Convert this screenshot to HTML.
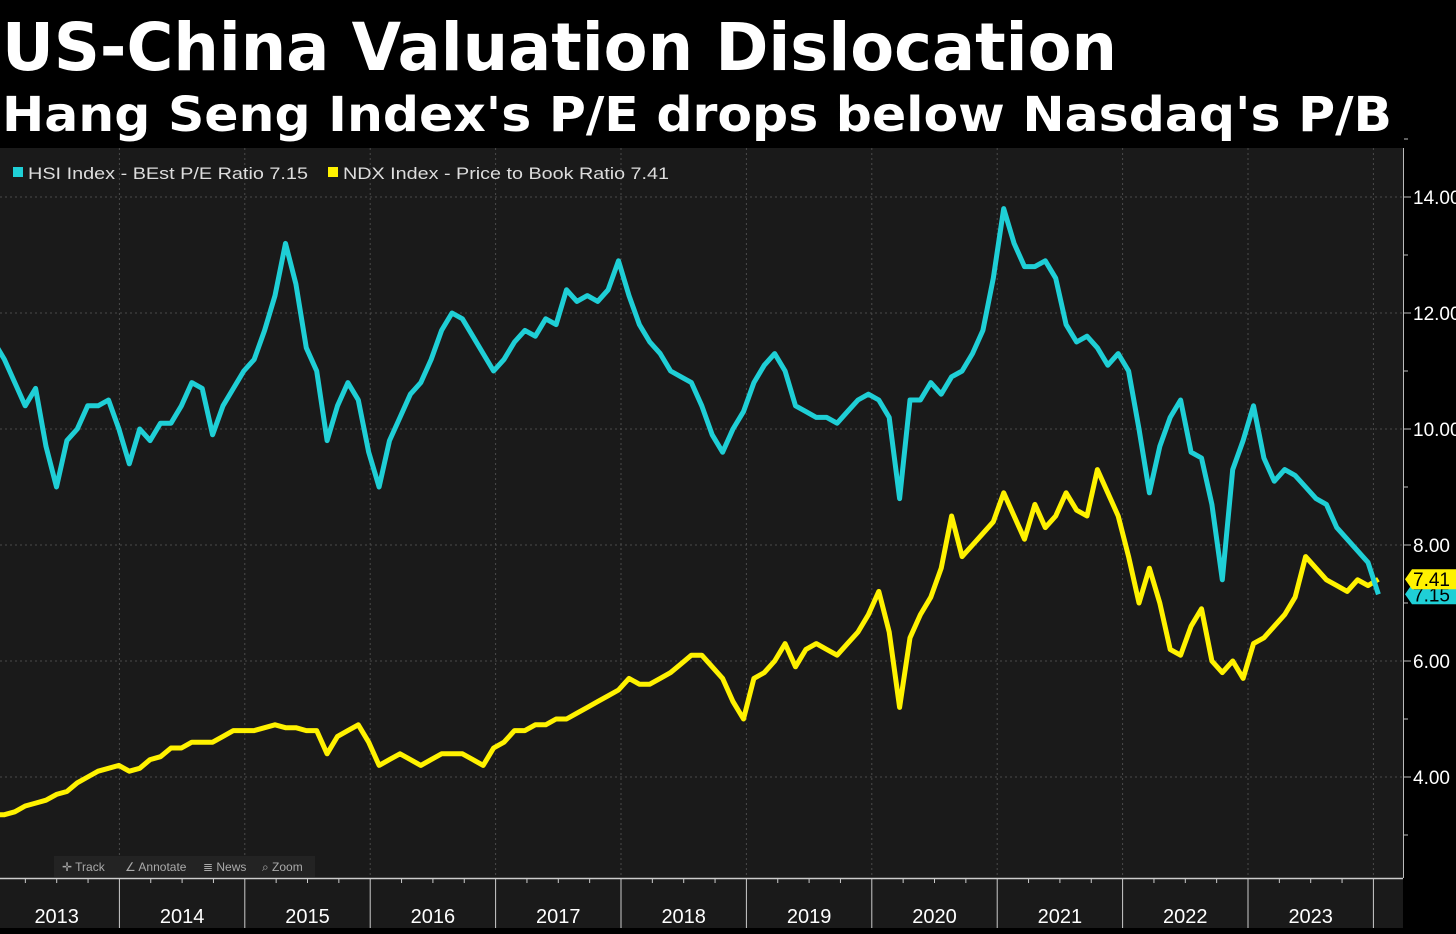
<!DOCTYPE html>
<html><head><meta charset="utf-8"><style>
html,body{margin:0;padding:0;background:#000;}
svg{display:block;font-family:"DejaVu Sans","Liberation Sans",sans-serif;}
</style></head><body>
<svg id="chart" width="1456" height="934" viewBox="0 0 1456 934" xmlns="http://www.w3.org/2000/svg">
<rect x="0" y="0" width="1456" height="934" fill="#000"/>
<rect x="0" y="148" width="1403" height="730" fill="#1a1a1a"/>
<rect x="0" y="878" width="1403" height="50" fill="#1a1a1a"/>
<text x="2" y="70" font-size="66" font-weight="bold" fill="#fff" textLength="1115" lengthAdjust="spacingAndGlyphs">US-China Valuation Dislocation</text>
<text x="2" y="131" font-size="48" font-weight="bold" fill="#fff" textLength="1390" lengthAdjust="spacingAndGlyphs">Hang Seng Index's P/E drops below Nasdaq's P/B</text>
<g id="grid"></g>
<g id="series"></g>
<g>
<rect x="13" y="167" width="10" height="10" fill="#1fcfd6"/>
<text x="28" y="179" font-size="17" fill="#ddd" font-family="Liberation Sans, sans-serif" textLength="280" lengthAdjust="spacingAndGlyphs">HSI Index - BEst P/E Ratio 7.15</text>
<rect x="328" y="167" width="10" height="10" fill="#fff200"/>
<text x="343" y="179" font-size="17" fill="#ddd" font-family="Liberation Sans, sans-serif" textLength="326" lengthAdjust="spacingAndGlyphs">NDX Index - Price to Book Ratio 7.41</text>
</g>
<g font-family="Liberation Sans, sans-serif" font-size="12" fill="#aaa">
<rect x="54" y="856" width="261" height="21" fill="#232323"/>
<text x="62" y="871">✛ Track</text>
<text x="125" y="871">∠ Annotate</text>
<text x="203" y="871">≣ News</text>
<text x="262" y="871">⌕ Zoom</text>
</g>
<g id="axes"></g>
</svg>
<script>
const yTicks = [4, 6, 8, 10, 12, 14];
const yTickLabels = ["4.00", "6.00", "8.00", "10.00", "12.00", "14.00"];
const years = [2013, 2014, 2015, 2016, 2017, 2018, 2019, 2020, 2021, 2022, 2023];
const startYear = 2013;
const endYear = 2024.04;
const hsiValues = [11.5,11.2,10.8,10.4,10.7,9.7,9.0,9.8,10.0,10.4,10.4,10.5,10.0,9.4,10.0,9.8,10.1,10.1,10.4,10.8,10.7,9.9,10.4,10.7,11.0,11.2,11.7,12.3,13.2,12.5,11.4,11.0,9.8,10.4,10.8,10.5,9.6,9.0,9.8,10.2,10.6,10.8,11.2,11.7,12.0,11.9,11.6,11.3,11.0,11.2,11.5,11.7,11.6,11.9,11.8,12.4,12.2,12.3,12.2,12.4,12.9,12.3,11.8,11.5,11.3,11.0,10.9,10.8,10.4,9.9,9.6,10.0,10.3,10.8,11.1,11.3,11.0,10.4,10.3,10.2,10.2,10.1,10.3,10.5,10.6,10.5,10.2,8.8,10.5,10.5,10.8,10.6,10.9,11.0,11.3,11.7,12.6,13.8,13.2,12.8,12.8,12.9,12.6,11.8,11.5,11.6,11.4,11.1,11.3,11.0,10.0,8.9,9.7,10.2,10.5,9.6,9.5,8.7,7.4,9.3,9.8,10.4,9.5,9.1,9.3,9.2,9.0,8.8,8.7,8.3,8.1,7.9,7.7,7.15];
const ndxValues = [3.35,3.35,3.4,3.5,3.55,3.6,3.7,3.75,3.9,4.0,4.1,4.15,4.2,4.1,4.15,4.3,4.35,4.5,4.5,4.6,4.6,4.6,4.7,4.8,4.8,4.8,4.85,4.9,4.85,4.85,4.8,4.8,4.4,4.7,4.8,4.9,4.6,4.2,4.3,4.4,4.3,4.2,4.3,4.4,4.4,4.4,4.3,4.2,4.5,4.6,4.8,4.8,4.9,4.9,5.0,5.0,5.1,5.2,5.3,5.4,5.5,5.7,5.6,5.6,5.7,5.8,5.95,6.1,6.1,5.9,5.7,5.3,5.0,5.7,5.8,6.0,6.3,5.9,6.2,6.3,6.2,6.1,6.3,6.5,6.8,7.2,6.5,5.2,6.4,6.8,7.1,7.6,8.5,7.8,8.0,8.2,8.4,8.9,8.5,8.1,8.7,8.3,8.5,8.9,8.6,8.5,9.3,8.9,8.5,7.8,7.0,7.6,7.0,6.2,6.1,6.6,6.9,6.0,5.8,6.0,5.7,6.3,6.4,6.6,6.8,7.1,7.8,7.6,7.4,7.3,7.2,7.4,7.3,7.41];
const lastHsi = "7.15", lastNdx = "7.41";

const NS = "http://www.w3.org/2000/svg";
function xOfYear(y){ return -6 + (y - startYear) * 125.4; }
function xOfIndex(i, n){ return xOfYear(startYear + i * (endYear - startYear) / (n - 1)); }
function yOf(v){ return 197 + (14 - v) * 58; }
function mk(tag, attrs, parent){ const e = document.createElementNS(NS, tag); for (const k in attrs) e.setAttribute(k, attrs[k]); parent.appendChild(e); return e; }

const grid = document.getElementById('grid');
yTicks.forEach(function(t){
  const l = mk('line', {x1:0, x2:1403, y1:yOf(t), y2:yOf(t), stroke:'#4a4a4a', 'stroke-dasharray':'2,3', 'stroke-width':1}, grid);
  
  
});
years.slice(1).concat([2024]).forEach(function(y){
  const l = mk('line', {x1:xOfYear(y), x2:xOfYear(y), y1:148, y2:878, stroke:'#4a4a4a', 'stroke-dasharray':'2,3', 'stroke-width':1}, grid);
  
  
});

const series = document.getElementById('series');
function drawLine(vals, color, name){
  const n = vals.length;
  const d = vals.map(function(v, i){ return (i ? 'L' : 'M') + xOfIndex(i, n).toFixed(1) + ' ' + yOf(v).toFixed(1); }).join(' ');
  const p = mk('path', {d:d, fill:'none', stroke:color, 'stroke-width':5, 'stroke-linejoin':'round'}, series);
  
  
}
drawLine(ndxValues, '#fff200', 'ndx-pb-line');
drawLine(hsiValues, '#1fcfd6', 'hsi-pe-line');

const axes = document.getElementById('axes');
const ya = mk('line', {x1:1403.5, x2:1403.5, y1:148, y2:878, stroke:'#bbb', 'stroke-width':1}, axes);


for (let v = 3; v <= 15; v++) {
  const tk = mk('line', {x1:1404, x2:(v % 2 === 0 ? 1411 : 1408), y1:yOf(v), y2:yOf(v), stroke:'#bbb', 'stroke-width':1}, axes);
  
  
}
yTicks.forEach(function(t, i){
  const tx = mk('text', {x:1413, y:yOf(t) + 7, 'font-size':19, fill:'#fff', 'font-family':'Liberation Sans, sans-serif'}, axes);
  tx.textContent = yTickLabels[i];
  
  
});
function tag(v, label, color, name){
  const y = yOf(v);
  const g = mk('g', {}, axes);
  
  
  mk('path', {d:'M1405 ' + y + ' L1412 ' + (y-10) + ' L1456 ' + (y-10) + ' L1456 ' + (y+10) + ' L1412 ' + (y+10) + ' Z', fill:color}, g);
  const t = mk('text', {x:1413, y:y + 7, 'font-size':19, fill:'#000', 'font-family':'Liberation Sans, sans-serif'}, g);
  t.textContent = label;
}
tag(parseFloat(lastHsi), lastHsi, '#1fcfd6', 'hsi-last-value-tag');
tag(parseFloat(lastNdx), lastNdx, '#fff200', 'ndx-last-value-tag');

const xa = mk('line', {x1:0, x2:1403, y1:878.5, y2:878.5, stroke:'#ccc', 'stroke-width':1.5}, axes);


years.forEach(function(y){
  for (let q = 1; q < 4; q++) {
    const qx = xOfYear(y + q / 4);
    const tk = mk('line', {x1:qx, x2:qx, y1:879, y2:883, stroke:'#ccc'}, axes);
    
    
  }
  const sx = xOfYear(y + 1);
  const sep = mk('line', {x1:sx, x2:sx, y1:879, y2:928, stroke:'#ccc', 'stroke-width':1}, axes);
  
  
  const t = mk('text', {x:xOfYear(y + 0.5), y:923, 'font-size':20, fill:'#fff', 'text-anchor':'middle', 'font-family':'Liberation Sans, sans-serif'}, axes);
  t.textContent = String(y);
  
  
});
</script>
</body></html>
